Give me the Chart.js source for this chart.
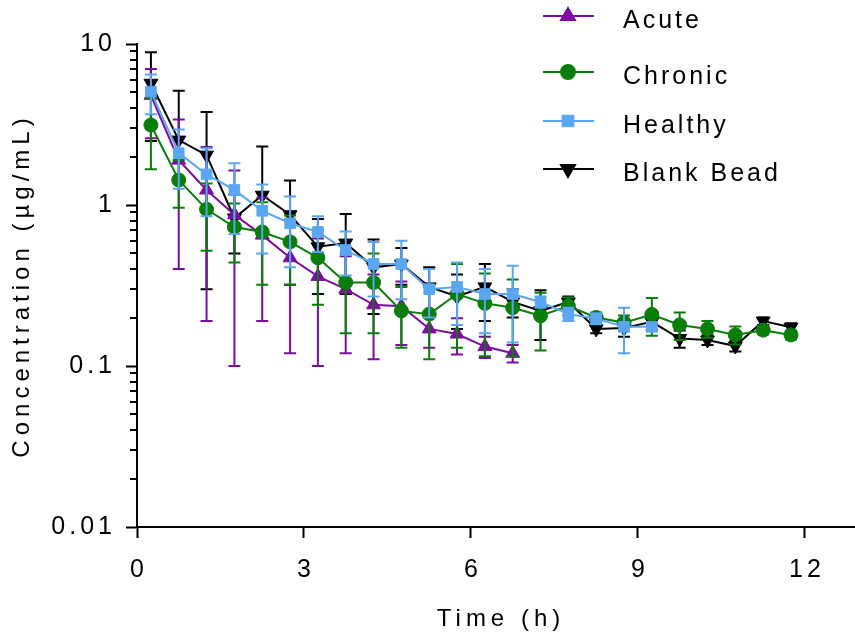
<!DOCTYPE html>
<html>
<head>
<meta charset="utf-8">
<script src="https://cdn.jsdelivr.net/npm/chart.js@4.4.1/dist/chart.umd.min.js"></script>
<style>
    html, body { margin: 0; padding: 0; background: #fff; }
</style>
</head>
<body>
<canvas id="myChart" width="855" height="639"></canvas>
<script>
// sampling times (h)
let times = [0.25, 0.75, 1.25, 1.75, 2.25, 2.75, 3.25, 3.75, 4.25, 4.75, 5.25, 5.75,
             6.25, 6.75, 7.25, 7.75, 8.25, 8.75, 9.25, 9.75, 10.25, 10.75, 11.25, 11.75];

// mean concentration and SD per group (ug/mL)
let acuteMean = [4.8, 1.9, 1.24, 0.87, 0.65, 0.47, 0.36, 0.30, 0.24, 0.235, 0.17, 0.158, 0.132, 0.12];
let acuteSd   = [2.2, 1.5, 1.05, 0.77, 0.46, 0.35, 0.26, 0.18, 0.13, 0.1, 0.04, 0.04, 0.02, 0.015];

let chronicMean = [3.14, 1.43, 0.94, 0.73, 0.68, 0.59, 0.47, 0.33, 0.33, 0.22, 0.21, 0.28,
                   0.245, 0.23, 0.205, 0.236, 0.2, 0.186, 0.209, 0.18, 0.17, 0.156, 0.167, 0.156];
let chronicSd   = [1.47, 0.47, 0.42, 0.29, 0.36, 0.27, 0.23, 0.17, 0.17, 0.09, 0.1, 0.15,
                   0.13, 0.115, 0.08, 0.03, 0.015, 0.02, 0.055, 0.035, 0.02, 0.02, 0.01, 0.01];

let healthyMean = [5.06, 2.1, 1.55, 1.24, 0.92, 0.77, 0.68, 0.525, 0.43, 0.43, 0.30, 0.31,
                   0.28, 0.28, 0.25, 0.21, 0.197, 0.175, 0.175];
let healthySd   = [1.4, 0.84, 0.7, 0.58, 0.42, 0.36, 0.17, 0.16, 0.16, 0.17, 0.1, 0.13,
                   0.12, 0.14, 0.02, 0.02, 0.015, 0.055, 0.01];

let blankMean = [5.7, 2.53, 2.04, 0.83, 1.15, 0.87, 0.55, 0.58, 0.41, 0.43, 0.31, 0.27,
                 0.31, 0.25, 0.22, 0.25, 0.17, 0.172, 0.188, 0.148, 0.145, 0.133, 0.19, 0.174];
let blankSd   = [3.2, 2.6, 1.74, 0.33, 1.16, 0.55, 0.27, 0.3, 0.2, 0.11, 0.1, 0.1,
                 0.12, 0.05, 0.075, 0.02, 0.01, 0.02, 0.02, 0.018, 0.01, 0.01, 0.01, 0.01];

let xTicks = [0, 3, 6, 9, 12];
let yTicks = [0.01, 0.1, 1, 10];
let yTickLabels = ['0.01', '0.1', '1', '10'];
let xTitle = 'Time (h)';
let yTitle = 'Concentration (µg/mL)';

let fontFamily = "'Liberation Sans', Arial, sans-serif";
Chart.defaults.font.family = fontFamily;
Chart.defaults.color = '#000';

let toPoints = (means) => means.map((v, i) => ({ x: times[i], y: v }));

function makeSet(label, means, sd, color, style, radius, rotation, order) {
    return {
        label: label,
        data: toPoints(means),
        sd: sd,
        borderColor: color,
        backgroundColor: color,
        borderWidth: 2,
        pointStyle: style,
        pointRadius: radius,
        pointRotation: rotation,
        pointBorderWidth: 1,
        pointBorderColor: color,
        pointBackgroundColor: color,
        fill: false,
        tension: 0,
        order: order
    };
}

// error bars, drawn just under each dataset's own line
let errorBars = {
    id: 'errorBars',
    beforeDatasetDraw(chart, args) {
        let ds = chart.data.datasets[args.index];
        let yScale = chart.scales.y;
        let c = chart.ctx;
        c.save();
        c.strokeStyle = ds.borderColor;
        c.lineWidth = 2;
        args.meta.data.forEach((pt, i) => {
            let m = ds.data[i].y, e = ds.sd[i];
            let top = yScale.getPixelForValue(m + e);
            c.beginPath();
            c.moveTo(pt.x, pt.y);
            c.lineTo(pt.x, top);
            c.moveTo(pt.x - 6, top);
            c.lineTo(pt.x + 6, top);
            if (m - e > 0) {
                let bot = yScale.getPixelForValue(m - e);
                c.moveTo(pt.x, pt.y);
                c.lineTo(pt.x, bot);
                c.moveTo(pt.x - 6, bot);
                c.lineTo(pt.x + 6, bot);
            }
            c.stroke();
        });
        c.restore();
    }
};

// minor log ticks on the y axis + spaced axis titles
let axisExtras = {
    id: 'axisExtras',
    afterDraw(chart) {
        let y = chart.scales.y;
        let area = chart.chartArea;
        let c = chart.ctx;
        c.save();
        c.strokeStyle = '#000';
        c.lineWidth = 2;
        c.beginPath();
        [0.01, 0.1, 1].forEach(dec => {
            for (let k = 2; k <= 9; k++) {
                let py = Math.round(y.getPixelForValue(k * dec));
                c.moveTo(area.left - 7, py);
                c.lineTo(area.left, py);
            }
        });
        c.stroke();

        c.letterSpacing = '5px';
        c.font = '24px ' + fontFamily;
        c.fillStyle = '#000';
        c.textAlign = 'center';
        c.textBaseline = 'middle';
        c.fillText(xTitle, 501, 619);
        c.translate(22, (area.top + area.bottom) / 2);
        c.rotate(-Math.PI / 2);
        c.fillText(yTitle, 0, 0);
        c.restore();
    }
};

// legend: line with marker, then spaced label
let legendBox = {
    id: 'legendBox',
    afterDraw(chart) {
        let c = chart.ctx;
        let rowsY = [16, 72, 121, 169];
        c.save();
        c.letterSpacing = '3px';
        c.font = '25px ' + fontFamily;
        c.textBaseline = 'middle';
        c.textAlign = 'left';
        chart.data.datasets.forEach((ds, i) => {
            let ly = rowsY[i];
            c.strokeStyle = ds.borderColor;
            c.fillStyle = ds.borderColor;
            c.lineWidth = 2;
            c.beginPath();
            c.moveTo(543, ly);
            c.lineTo(594, ly);
            c.stroke();
            Chart.helpers.drawPoint(c, {
                pointStyle: ds.pointStyle,
                rotation: ds.pointRotation,
                radius: ds.pointRadius,
                borderWidth: 1
            }, 568, ly);
            c.fillStyle = '#000';
            c.fillText(ds.label, 623, ly + 5);
        });
        c.restore();
    }
};

let spacing = {
    id: 'spacing',
    beforeDraw(chart) {
        chart.ctx.letterSpacing = '4px';
    }
};

let grafico = new Chart(document.getElementById('myChart').getContext('2d'), {
    type: 'line',
    data: {
        datasets: [
            makeSet('Acute', acuteMean, acuteSd, '#7d0d9e', 'triangle', 8, 0, 2),
            makeSet('Chronic', chronicMean, chronicSd, '#087d08', 'circle', 7, 0, 1),
            makeSet('Healthy', healthyMean, healthySd, '#5aa6f5', 'rect', 7.5, 0, 0),
            makeSet('Blank Bead', blankMean, blankSd, '#000000', 'triangle', 8, 180, 3)
        ]
    },
    options: {
        responsive: false,
        animation: false,
        devicePixelRatio: 1,
        layout: { autoPadding: false, padding: { top: 44, right: 0, bottom: 0, left: 0 } },
        plugins: {
            legend: { display: false },
            tooltip: { enabled: false }
        },
        scales: {
            x: {
                type: 'linear',
                min: 0,
                max: 12.9,
                afterBuildTicks: s => { s.ticks = xTicks.map(v => ({ value: v })); },
                afterFit: s => { s.height = 112; s.paddingLeft = 0; s.paddingRight = 0; },
                ticks: { font: { size: 25 }, color: '#000', padding: 17, maxRotation: 0, labelOffset: 2 },
                grid: { drawOnChartArea: false, tickLength: 11, tickWidth: 2, tickColor: '#000' },
                border: { display: true, color: '#000', width: 2 },
                title: { display: false }
            },
            y: {
                type: 'logarithmic',
                min: 0.01,
                max: 10,
                afterBuildTicks: s => { s.ticks = yTicks.map(v => ({ value: v })); },
                afterFit: s => { s.width = 137; s.paddingTop = 0; s.paddingBottom = 0; },
                ticks: {
                    font: { size: 25 },
                    color: '#000',
                    padding: 10,
                    callback: (v) => yTickLabels[yTicks.indexOf(v)]
                },
                grid: { drawOnChartArea: false, tickLength: 11, tickWidth: 2, tickColor: '#000' },
                border: { display: true, color: '#000', width: 2 },
                title: { display: false }
            }
        }
    },
    plugins: [spacing, errorBars, axisExtras, legendBox]
});
</script>
</body>
</html>
